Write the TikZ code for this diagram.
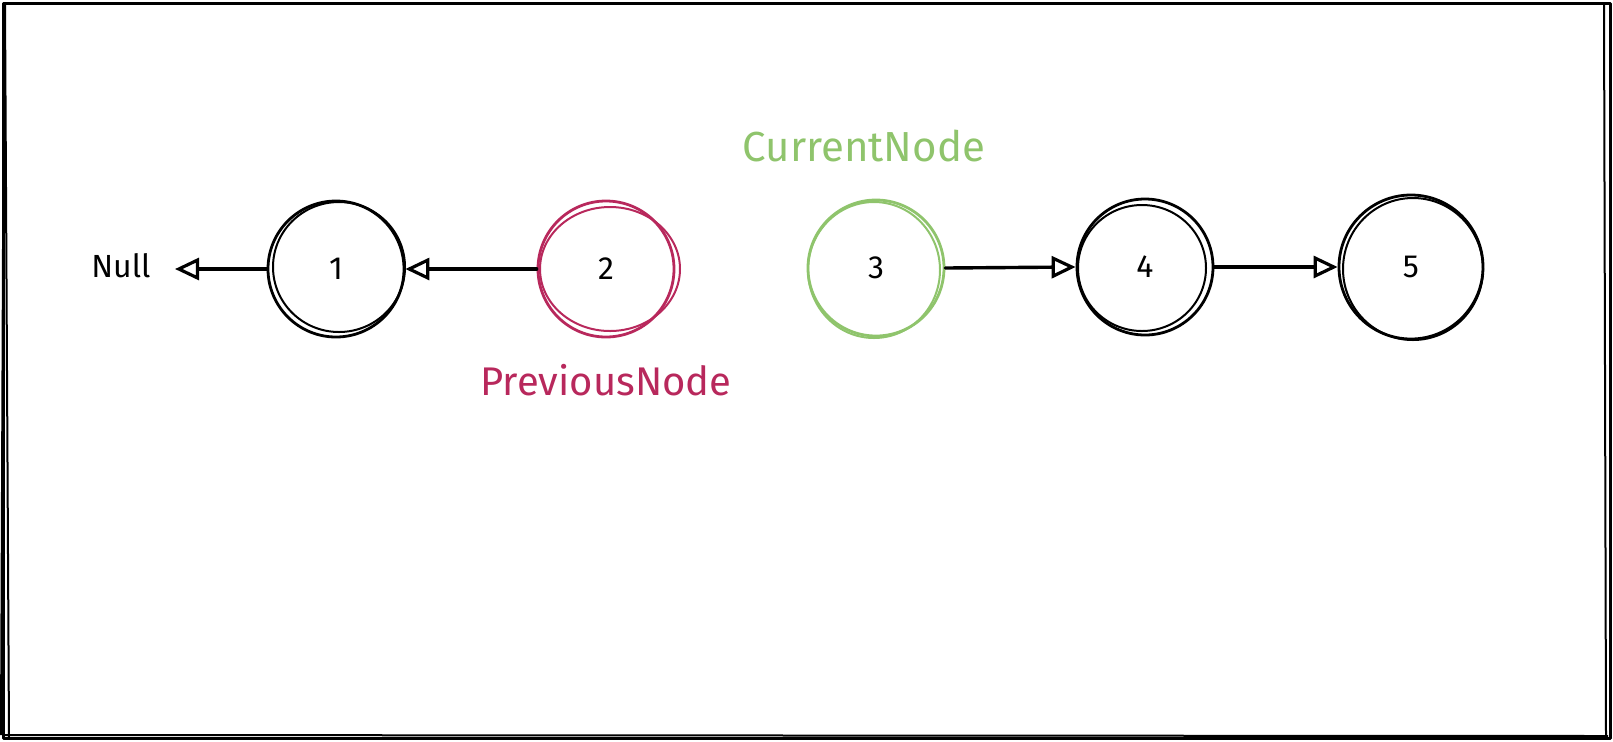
\documentclass[tikz,border=0pt]{standalone}
\usepackage{fontspec}
\setmainfont{Fira Sans}
\usetikzlibrary{arrows.meta}
\definecolor{prevred}{RGB}{184,40,92}
\definecolor{curgreen}{RGB}{143,196,108}
\begin{document}
\begin{tikzpicture}[x=0.5pt,y=-0.5pt,
  frame/.style={line width=1.5pt, line join=round},
  sketch/.style={line width=1pt},
  listnode/.style={circle, draw, line width=1.4pt, minimum size=68pt, inner sep=0pt, font=\fontsize{16}{18}\selectfont},
  lbl/.style={font=\fontsize{21}{24}\selectfont, inner sep=0pt},
  arr/.style={line width=1.7pt, line cap=round, -{Triangle[open, length=12pt, width=11pt, line width=1.6pt]}}]
\useasboundingbox (0,0) rectangle (1613,741);
% frame
\draw[frame] (3,3) -- (1610,3) -- (1610,738) -- (3,738) -- cycle;
\draw[sketch] (5,4) -- (9,737);
\draw[sketch] (4,6) -- (1,735);
\draw[sketch] (1604,4) -- (1606,736);
\draw[sketch] (5,735) -- (1608,736);
% nodes
\node[listnode] (n1) at (336,269) {1};
\node[listnode, draw=prevred] (n2) at (606,269) {2};
\node[listnode, draw=curgreen] (n3) at (876,268) {3};
\node[listnode] (n4) at (1145,267) {4};
\node[listnode, minimum size=72pt] (n5) at (1411,267) {5};
% hand-drawn second strokes
\draw[sketch] ([shift={(3,-2)}]n1.center) ellipse [x radius=33pt, y radius=32.5pt];
\draw[sketch, prevred] ([shift={(4,0)}]n2.center) ellipse [x radius=35pt, y radius=31pt];
\draw[sketch, curgreen] ([shift={(-2,2)}]n3.center) ellipse [x radius=33pt, y radius=34pt];
\draw[sketch] ([shift={(-3,1)}]n4.center) ellipse [x radius=32pt, y radius=31.5pt];
\draw[sketch] ([shift={(2,2)}]n5.center) ellipse [x radius=35pt, y radius=35.5pt];
% labels
\node[lbl, font=\fontsize{16}{18}\selectfont] (null) at (121,266) {Null};
\node[lbl, text=curgreen] (cur) at (864,146) {CurrentNode};
\node[lbl, font=\fontsize{20}{24}\selectfont, text=prevred] (prev) at (606,380) {PreviousNode};
% connectors
\draw[arr] (n1.west) -- ([xshift=12pt]null.east |- n1.west);
\draw[arr] (n2.west) -- (n1.east);
\draw[arr] (n3.east) -- (n4.west);
\draw[arr] (n4.east) -- (n5.west);
\end{tikzpicture}
\end{document}
